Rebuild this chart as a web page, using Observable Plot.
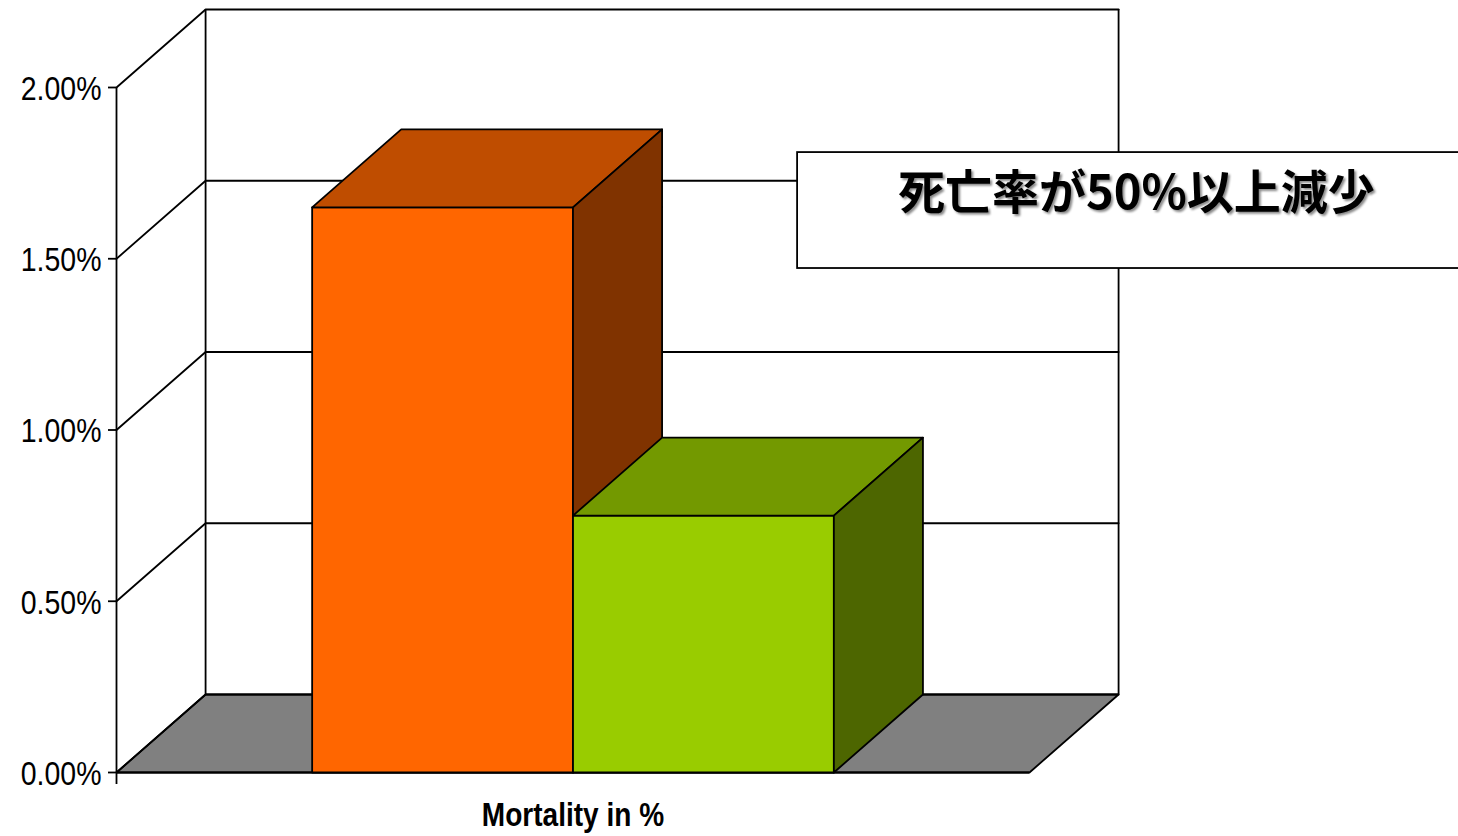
<!DOCTYPE html>
<html>
<head>
<meta charset="utf-8">
<script src="https://cdn.jsdelivr.net/npm/d3@7"></script>
<script src="https://cdn.jsdelivr.net/npm/@observablehq/plot@0.6"></script>
<style>
  html, body { margin: 0; padding: 0; background: #fff; overflow: hidden; }
  text[aria-label="callout"] { filter: drop-shadow(2px 2px 1px #8a8a8a); }
</style>
</head>
<body>
<div id="chart"></div>
<script>
// Mortality by group, in percent
const seriesValues = [1.65, 0.75];
const frontColors = ["#FF6600", "#99CC00"];
const topColors = ["#BF4D00", "#739900"];
const sideColors = ["#803300", "#4D6600"];
const yTicks = [0, 0.5, 1, 1.5, 2];
const categoryLabel = "Mortality in %";
const calloutText = "死亡率が50%以上減少";

// Column layout: one-unit-wide columns with a 75% gap either side of the group
const gap = 0.75;
const floorWidth = 3.5;
// Oblique depth of the 3D box, in axis units
const depthX = 0.3415;
const depthY = 0.2277;
// Horizontal squeeze giving the narrow look of the labels
const narrow = 0.85;

const polygon = (id, fill, points) =>
  points.map(([x, y]) => ({id, fill, x, y}));

const closedPolygons = rows =>
  Plot.line(rows, {
    x: "x", y: "y", z: "id",
    fill: d => d.fill,
    stroke: "#000",
    strokeWidth: 1.8,
    strokeLinejoin: "round",
    curve: "linear-closed"
  });

const floor = polygon("floor", "#808080", [
  [0, 0], [floorWidth, 0],
  [floorWidth + depthX, depthY], [depthX, depthY]
]);

// Each gridline runs back along the side wall, then across the back wall
const gridlines = yTicks.flatMap(t => [
  {t, x: 0, y: t},
  {t, x: depthX, y: t + depthY},
  {t, x: floorWidth + depthX, y: t + depthY}
]);

const columns = seriesValues.flatMap((v, i) => {
  const x0 = gap + i;
  const x1 = x0 + 1;
  return [
    polygon(`front${i}`, frontColors[i], [[x0, 0], [x1, 0], [x1, v], [x0, v]]),
    polygon(`top${i}`, topColors[i], [
      [x0, v], [x1, v], [x1 + depthX, v + depthY], [x0 + depthX, v + depthY]
    ]),
    polygon(`side${i}`, sideColors[i], [
      [x1, 0], [x1 + depthX, depthY], [x1 + depthX, v + depthY], [x1, v]
    ])
  ];
});

const chart = Plot.plot({
  width: 1458,
  height: 836,
  marginLeft: 116,
  marginRight: 0,
  marginTop: 0,
  marginBottom: 0,
  style: {
    fontFamily: "'Liberation Sans', sans-serif",
    background: "#fff",
    overflow: "hidden",
    color: "#000"
  },
  x: {domain: [0, floorWidth], range: [116, 1029], axis: null},
  y: {domain: [0, 2], range: [772, 87], axis: null},
  marks: [
    closedPolygons(floor),
    Plot.line(gridlines, {x: "x", y: "y", z: "t", stroke: "#000", strokeWidth: 1.8}),
    // Back-left and back-right wall edges
    Plot.ruleX([depthX, floorWidth + depthX], {y1: depthY, y2: 2 + depthY, stroke: "#000", strokeWidth: 1.8}),
    // Front value axis, overhanging the floor a little, and the front floor edge
    Plot.ruleX([0], {y1: -0.035, y2: 2, stroke: "#000", strokeWidth: 1.8}),
    Plot.ruleY([0], {x1: 0, x2: floorWidth, stroke: "#000", strokeWidth: 2}),
    ...columns.map(closedPolygons),
    Plot.axisY({
      ticks: yTicks,
      tickFormat: d => d3.format(".2f")(d) + "%",
      tickSize: 8,
      tickPadding: 7,
      fontSize: 33.5,
      stroke: "#000",
      strokeWidth: 1.8,
      label: null
    }),
    Plot.text([categoryLabel], {
      x: () => floorWidth / 2,
      y: () => 0,
      dy: 43,
      text: d => d,
      ariaLabel: () => "category",
      fontSize: 33,
      fontWeight: "bold",
      fill: "#000"
    }),
    // Callout box running off the right-hand side
    Plot.rect([calloutText], {
      x1: () => 2.611,
      x2: () => 5.3,
      y1: () => 1.4715,
      y2: () => 1.81,
      fill: "#fff",
      stroke: "#000",
      strokeWidth: 1.8
    }),
    Plot.text([calloutText], {
      x: () => 3.91,
      y: () => 1.689,
      text: d => d,
      ariaLabel: () => "callout",
      fontSize: 47,
      fontWeight: "bold",
      fontFamily: "'Noto Sans CJK JP', sans-serif",
      fill: "#000"
    })
  ]
});

document.getElementById("chart").append(chart);

// Squeeze the axis and category labels now that they can be measured
d3.select(chart)
  .selectAll('g[aria-label="y-axis tick label"] text, text[aria-label="category"]')
  .each(function () {
    this.setAttribute("textLength", this.getComputedTextLength() * narrow);
    this.setAttribute("lengthAdjust", "spacingAndGlyphs");
  });

// Sit the value labels slightly below their ticks
d3.select(chart)
  .selectAll('g[aria-label="y-axis tick label"] text')
  .attr("dy", "0.05em");
</script>
</body>
</html>
